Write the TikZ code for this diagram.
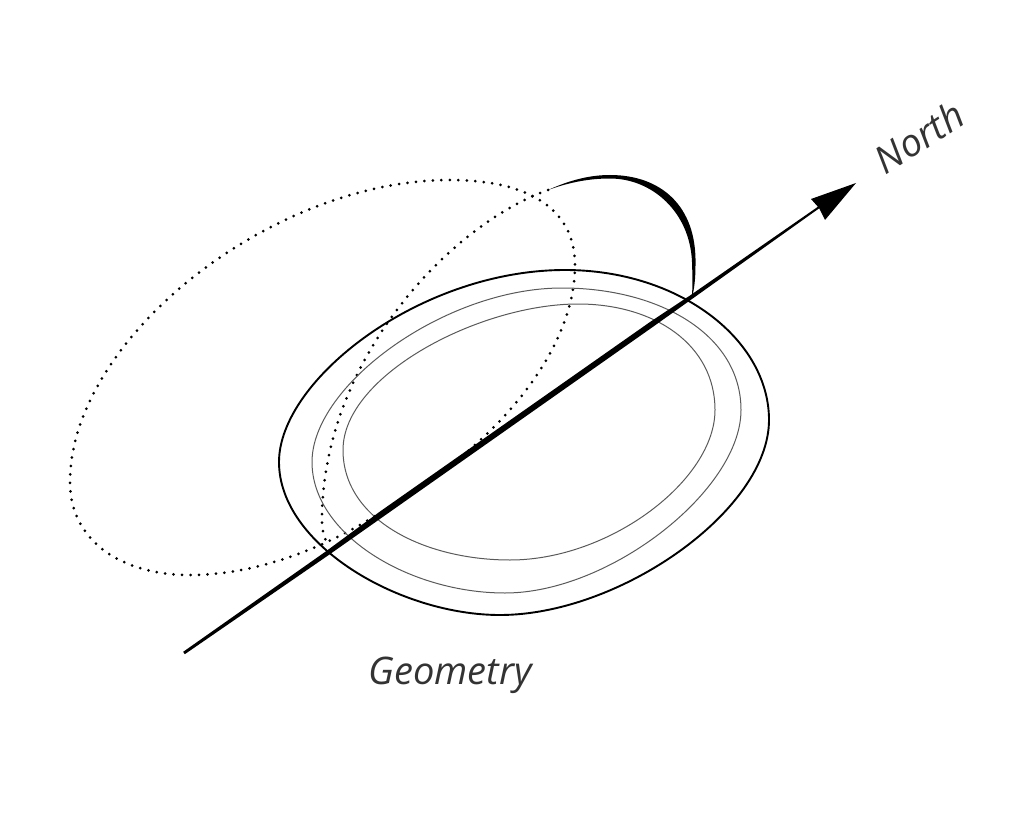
\documentclass[tikz,border=0pt]{standalone}
\usepackage{fontspec}
\setmainfont{Open Sans}
\tikzset{
  outerloop/.style={draw=black,line width=1.9pt},
  thinloop/.style={draw=black!65,line width=1pt},
  dotline/.style={draw=black,line width=3pt,line cap=round,dash pattern=on 0pt off 8.5pt},
  inkfill/.style={fill=black,draw=none},
  lbl/.style={font=\fontsize{38}{42}\selectfont\itshape,text=black!80,inner sep=0pt}
}
\begin{document}
\begin{tikzpicture}[x=1pt,y=-1pt]
\useasboundingbox (0,0) rectangle (1011,826);
% dotted loops
\draw[dotline] (462,456) .. controls (530,400) and (575,330) .. (575,265)
  .. controls (575,210) and (530,180) .. (450,180)
  .. controls (270,180) and (70,340) .. (70,482)
  .. controls (70,540) and (120,575) .. (190,575)
  .. controls (260,575) and (330,545) .. (378,514);
\draw[dotline] (548,190) .. controls (450,225) and (322,360) .. (322,520) .. controls (322,530) and (324,538) .. (328,545);
% contours
\draw[outerloop] (279,462) .. controls (279,380) and (420,270) .. (565,270)
  .. controls (680,270) and (769,340) .. (769,420)
  .. controls (769,510) and (620,615) .. (500,615)
  .. controls (400,615) and (279,545) .. cycle;
\draw[thinloop] (312,462) .. controls (312,385) and (445,288) .. (562,288)
  .. controls (660,288) and (741,335) .. (741,410)
  .. controls (741,490) and (610,593) .. (505,593)
  .. controls (410,593) and (312,535) .. cycle;
\draw[thinloop] (343,450) .. controls (343,375) and (480,304) .. (578,304)
  .. controls (655,304) and (715,345) .. (715,410)
  .. controls (715,480) and (610,560) .. (510,560)
  .. controls (425,560) and (343,520) .. cycle;
% tapered axis
\coordinate (tail) at (184,653);
\coordinate (tip) at (856,183);
\fill[inkfill] (183.2,651.8) -- (325,552) -- (380,511.5) -- (650,322) -- (690,295.5) -- (820,205.3) -- (821,207) -- (692,299) -- (652,327.5) -- (382,517.5) -- (328,555.5) -- (184.8,654.2) -- cycle;
\fill[inkfill] (tip) -- (811,199) -- (819,208) -- (825,220) -- cycle;
% tapered arc
\fill[inkfill] (548,190) .. controls (570,180) and (590,175) .. (610,175) .. controls (660,175) and (697,205) .. (695.5,265) .. controls (695.5,280) and (694,290) .. (692,298) .. controls (692.5,285) and (692.5,275) .. (692,262) .. controls (690,212) and (652,178.5) .. (610,178.5) .. controls (590,178.5) and (570,182) .. cycle;
\node[lbl] (geom) at (450,675) {Geometry};
\node[lbl,rotate=33] (north) at (919,137) {North};
\end{tikzpicture}
\end{document}
